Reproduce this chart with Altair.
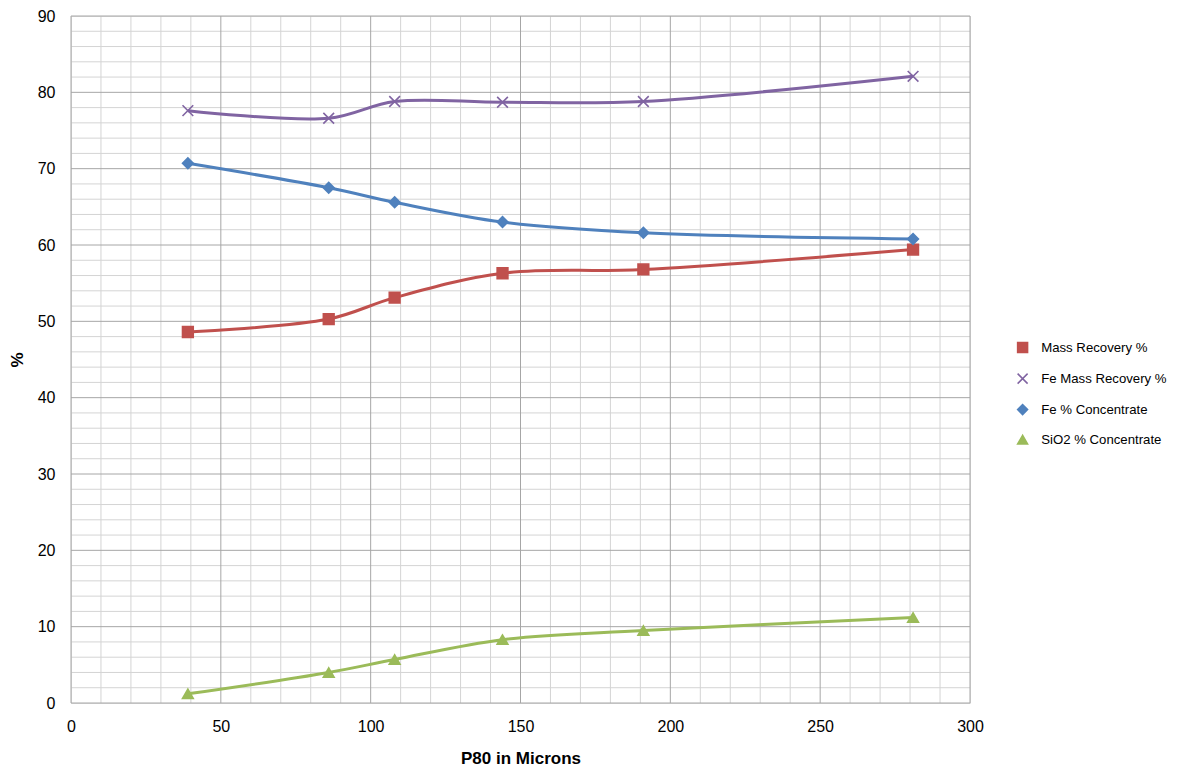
import altair as alt
import pandas as pd

# ---- data ----
p80 = [39, 86, 108, 144, 191, 281]
mass_recovery = [48.6, 50.3, 53.1, 56.3, 56.8, 59.4]
fe_mass_recovery = [77.6, 76.6, 78.8, 78.7, 78.8, 82.1]
fe_concentrate = [70.7, 67.5, 65.6, 63.0, 61.6, 60.8]
sio2_concentrate = [1.2, 4.0, 5.7, 8.3, 9.5, 11.2]

series_names = ["Mass Recovery %", "Fe Mass Recovery %", "Fe % Concentrate", "SiO2 % Concentrate"]
series_colors = ["#C0504D", "#8064A2", "#4F81BD", "#9BBB59"]
series_shapes = ["square", "M-1,-1L1,1M-1,1L1,-1", "diamond", "triangle-up"]

minor_x = [v for v in range(0, 301, 10) if v % 50]
major_x = list(range(0, 301, 50))
minor_y = [v for v in range(0, 91, 2) if v % 10]
major_y = list(range(0, 91, 10))

rows = []
for name, vals in zip(series_names, [mass_recovery, fe_mass_recovery, fe_concentrate, sio2_concentrate]):
    for x, y in zip(p80, vals):
        rows.append({"P80": x, "Value": y, "Series": name})
df = pd.DataFrame(rows)

FONT = "Liberation Sans"
xscale = alt.Scale(domain=[0, 300], nice=False, zero=True)
yscale = alt.Scale(domain=[0, 90], nice=False, zero=True)
x_axis = alt.Axis(values=major_x, grid=False, ticks=False, domain=False, labelPadding=15,
                  labelFlush=False, labelOverlap=False,
                  labelFontSize=16, labelFont=FONT, labelColor="#000000", title="P80 in Microns",
                  titleFontSize=17, titleFont=FONT, titleFontWeight="bold", titleColor="#000000",
                  titlePadding=16)
y_axis = alt.Axis(values=major_y, grid=False, ticks=False, domain=False, labelPadding=16,
                  labelFlush=False, labelOverlap=False,
                  labelFontSize=16, labelFont=FONT, labelColor="#000000", title="%",
                  titleFontSize=17, titleFont=FONT, titleFontWeight="bold", titleColor="#000000",
                  titlePadding=11)

def grid_x(values, color):
    return alt.Chart(pd.DataFrame({"gx": values})).mark_rule(color=color, strokeWidth=1).encode(
        x=alt.X("gx:Q", scale=xscale, axis=x_axis))

def grid_y(values, color):
    return alt.Chart(pd.DataFrame({"gy": values})).mark_rule(color=color, strokeWidth=1).encode(
        y=alt.Y("gy:Q", scale=yscale, axis=y_axis))

cscale = alt.Scale(domain=series_names, range=series_colors)
legend = alt.Legend(title=None, orient="none", legendX=945, legendY=325, labelFont=FONT,
                    labelFontSize=13.2, labelColor="#000000", rowPadding=14, symbolSize=100,
                    symbolStrokeWidth=1.5, padding=0, labelOffset=12, labelLimit=300)

base = alt.Chart(df).encode(
    x=alt.X("P80:Q", scale=xscale, axis=x_axis),
    y=alt.Y("Value:Q", scale=yscale, axis=y_axis),
)
lines = base.mark_line(interpolate="catmull-rom", strokeWidth=3).encode(
    color=alt.Color("Series:N", scale=cscale, legend=legend, sort=series_names))
points = base.mark_point(filled=True, size=115, opacity=1, strokeWidth=1.6).encode(
    color=alt.Color("Series:N", scale=cscale, legend=legend, sort=series_names),
    stroke=alt.Stroke("Series:N", scale=cscale, legend=legend, sort=series_names),
    shape=alt.Shape("Series:N", scale=alt.Scale(domain=series_names, range=series_shapes),
                    legend=legend, sort=series_names),
)

chart = alt.layer(
    grid_x(minor_x, "#D4D4D4"), grid_y(minor_y, "#D4D4D4"),
    grid_x(major_x, "#A6A6A6"), grid_y(major_y, "#A6A6A6"),
    lines, points,
).properties(
    width=899, height=687,
    autosize=alt.AutoSizeParams(type="none"),
    padding={"left": 63, "top": 8, "right": 204, "bottom": 70},
).configure_view(stroke="#000000", strokeWidth=2.5).configure(background="white")

chart.save("out.html", embed_options={"renderer": "svg", "actions": False})
